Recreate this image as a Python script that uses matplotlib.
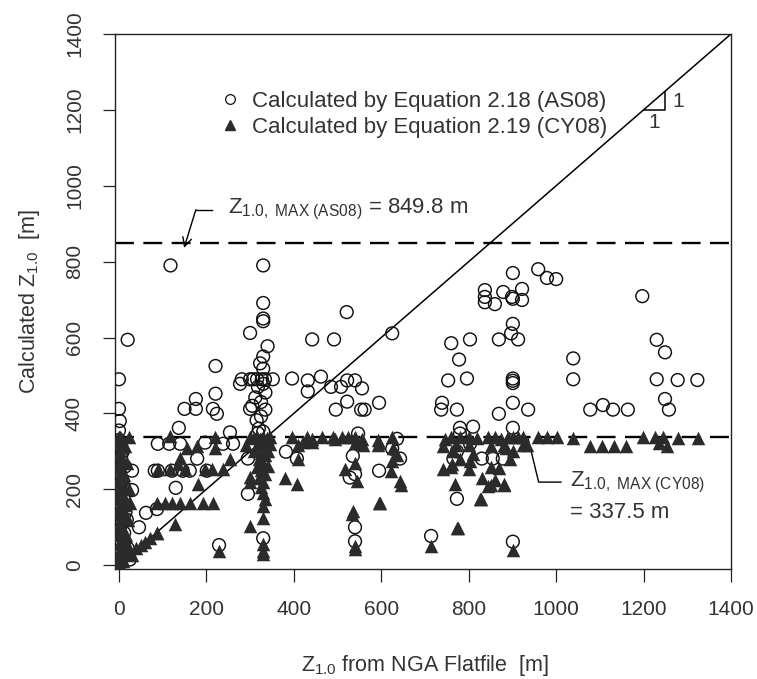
import matplotlib
matplotlib.use('Agg')
import matplotlib.pyplot as plt
from matplotlib.lines import Line2D

plt.rcParams['font.family'] = ['Liberation Sans', 'DejaVu Sans']
plt.rcParams['mathtext.fontset'] = 'custom'
plt.rcParams['mathtext.rm'] = 'Liberation Sans'
plt.rcParams['mathtext.it'] = 'Liberation Sans:italic'
plt.rcParams['mathtext.bf'] = 'Liberation Sans:bold'

# ---------------- data ----------------
as08_x = [118, 330, 20, 330, 330, 330, 300, 340, 221, 221, 442, 492, 521, 625,
          0, 0, 2, 0, 150, 176, 176, 215, 224, 277,
          281, 300, 307, 316, 327, 334, 352, 330, 323, 330, 318, 330, 335, 312, 325,
          305, 335, 300, 315, 325, 320, 330, 318,
          396, 432, 432, 462, 485, 508, 522, 540, 556, 522, 496, 554, 562, 595,
          137, 254, 89, 115, 140, 197, 238, 261, 179, 30, 82, 89, 121, 146, 162, 201,
          130, 30, 62, 87, 46, 229, 330,
          382, 407, 295, 295, 547, 535, 528, 540, 540, 540, 636, 625, 643, 595,
          714, 837, 837, 837, 760, 803, 778, 753, 796, 739, 737, 773, 780, 810, 803,
          780, 765, 773, 830, 773, 855, 878,
          901, 959, 979, 1000, 860, 879, 899, 901, 922, 922, 901, 897, 913, 869,
          901, 901, 901, 901, 869, 936, 901, 901,
          1039, 1039, 1078, 1107, 1130, 1164, 1197, 1230, 1249, 1230, 1278, 1323, 1249, 1258,
          0, 2, 0, 5, 1, 0, 3, 8, 0, 2, 10, 0, 4, 15, 0, 6, 1, 12, 0, 3, 20, 0, 7, 25, 2, 0,
          14, 18, 12, 9]
as08_y = [790, 790, 594, 691, 650, 643, 612, 577, 525, 452, 595, 595, 667, 611,
          490, 412, 380, 355, 412, 438, 412, 412, 399, 478,
          490, 490, 490, 490, 490, 490, 490, 550, 532, 518, 470, 478, 455, 442, 430,
          420, 410, 412, 382, 392, 360, 352, 348,
          492, 487, 458, 497, 470, 470, 487, 487, 466, 431, 410, 410, 410, 428,
          362, 350, 320, 320, 320, 323, 320, 320, 281, 249, 249, 249, 249, 249, 249, 249,
          204, 198, 138, 148, 100, 53, 71,
          299, 281, 281, 188, 347, 288, 231, 240, 100, 63, 333, 307, 281, 249,
          77, 725, 707, 693, 585, 595, 542, 487, 492, 428, 410, 410, 362, 365, 320,
          347, 281, 300, 281, 175, 281, 281,
          770, 780, 757, 754, 688, 720, 707, 702, 728, 699, 636, 611, 595, 595,
          492, 486, 480, 428, 399, 410, 362, 62,
          545, 490, 410, 422, 410, 410, 709, 594, 561, 490, 488, 488, 438, 410,
          330, 315, 300, 285, 270, 255, 240, 225, 210, 195, 180, 165, 150, 140, 125, 110,
          95, 85, 70, 55, 45, 35, 20, 15, 8, 0,
          260, 120, 60, 300]

cy08_x = [22, 117, 220, 300, 308, 315, 322, 330, 338, 345, 396, 430, 441, 464, 490, 494,
          510, 524, 540, 556, 593, 625, 745, 760, 780, 800, 820, 845, 860, 875, 890, 901,
          912, 925, 958, 979, 1002, 1039, 1199, 1227, 1245, 1279, 1325,
          155, 178, 220, 290, 330, 410, 558, 627, 741, 770, 800, 850, 880, 934,
          1078, 1105, 1133, 1160, 1254, 1235,
          140, 135, 151, 89, 117, 181, 197, 213, 238, 254, 87, 105, 121, 140, 162, 192,
          215, 25, 128, 87, 229,
          410, 380, 407, 300, 300, 330, 300, 330, 330, 330, 330, 517, 540, 545, 533, 535,
          540, 540, 540, 442, 421,
          320, 330, 325, 335, 320, 330, 340, 325, 335, 320, 330, 325, 330, 335, 310, 345,
          315, 340,
          593, 636, 625, 643, 597, 595, 623, 645, 596, 773, 714,
          764, 780, 810, 803, 741, 762, 769, 826, 844, 759, 801, 852, 880, 829, 776,
          901, 901, 885, 895, 870, 860, 880, 850, 830, 925,
          0, 3, 0, 6, 2, 0, 4, 9, 1, 0, 5, 12, 0, 3, 7, 0, 2, 10, 0, 4, 14, 1, 0, 6, 18,
          2, 0, 8, 3, 0, 12, 5, 0, 15, 2, 20, 0, 7, 25, 3, 10, 0, 18, 5, 30, 12, 22,
          40, 50, 60, 70, 88, 0, 2, 5,
          15, 18, 12, 20, 16, 10]
cy08_y = [337, 340, 337, 337, 335, 337, 333, 337, 335, 337, 337, 337, 333, 337, 337, 333,
          337, 337, 337, 333, 330, 337, 333, 337, 337, 337, 335, 337, 337, 333, 337, 337,
          337, 337, 337, 337, 337, 335, 339, 337, 337, 336, 336,
          310, 315, 310, 318, 318, 318, 318, 310, 315, 318, 318, 315, 318, 318,
          315, 315, 315, 315, 315, 322,
          283, 267, 254, 254, 254, 214, 254, 254, 254, 280, 163, 163, 163, 163, 163, 163,
          163, 164, 108, 85, 37,
          281, 230, 214, 232, 220, 125, 103, 155, 55, 37, 30, 253, 270, 222, 136, 144,
          42, 50, 323, 326, 326,
          320, 305, 295, 290, 280, 270, 262, 250, 240, 230, 220, 205, 190, 175, 300, 320,
          260, 300,
          318, 290, 275, 222, 164, 321, 248, 212, 165, 98, 50,
          302, 281, 294, 275, 254, 267, 214, 175, 209, 259, 253, 212, 212, 175, 97,
          40, 300, 310, 280, 255, 225, 215, 260, 230, 318,
          337, 330, 320, 312, 300, 290, 282, 275, 265, 255, 245, 238, 228, 220, 210, 200,
          192, 185, 175, 165, 158, 150, 140, 132, 125, 115, 105, 98, 90, 80, 72, 65, 55,
          48, 40, 35, 25, 18, 30, 10, 12, 5, 55, 100, 28, 140, 200,
          45, 52, 62, 72, 86, 337, 337, 335,
          315, 270, 230, 120, 80, 60]

zmax_as08 = 849.8
zmax_cy08 = 337.5
ticks = [0, 200, 400, 600, 800, 1000, 1200, 1400]
label_as08 = 'Calculated by Equation 2.18 (AS08)'
label_cy08 = 'Calculated by Equation 2.19 (CY08)'

# ---------------- figure ----------------
TXT = '#333333'
fig = plt.figure(figsize=(7.57, 6.79), dpi=100)
ax = fig.add_axes([0.1513, 0.162, 0.8144, 0.788])
ax.set_xlim(-10, 1400)
ax.set_ylim(-10, 1400)

ax.axline((0, 0), slope=1, color='black', lw=1.1, zorder=2)
for z in (zmax_as08, zmax_cy08):
    ax.axhline(z, color='black', lw=1.7, linestyle=(0, (8, 4)), zorder=2)

ax.scatter(as08_x, as08_y, s=85, marker='o', facecolors='none',
           edgecolors='#111111', linewidths=1.05, zorder=3)
ax.scatter(cy08_x, cy08_y, s=95, marker='^', color='#2b2b2b',
           linewidths=0, zorder=4)

# legend
h1 = Line2D([], [], marker='o', linestyle='none', markerfacecolor='none',
            markeredgecolor='#111111', markersize=7.0, markeredgewidth=0.9)
h2 = Line2D([], [], marker='^', linestyle='none', color='#2b2b2b', markersize=7.5)
leg = ax.legend([h1, h2], [label_as08, label_cy08], loc='upper left',
                bbox_to_anchor=(0.17, 0.893), frameon=False, fontsize=16,
                handlelength=1.0, handletextpad=0.45, labelspacing=0.22,
                borderpad=0, borderaxespad=0)
for t in leg.get_texts():
    t.set_color(TXT)

# AS08 annotation
ax.plot([213, 176], [937, 937], color='black', lw=1.0)
ax.annotate('', xy=(149, 836), xytext=(176, 937),
            arrowprops=dict(arrowstyle='->', color='black', lw=1.0,
                            shrinkA=0, shrinkB=0, mutation_scale=16))
ax.text(250, 937, r'Z$_{\mathrm{1.0,\ MAX\ (AS08)}}$ = 849.8 m', fontsize=16,
        color=TXT, ha='left', va='center')

# CY08 annotation
ax.plot([936, 960, 1011], [333, 219, 219], color='black', lw=1.0)
ax.text(1032, 219, r'Z$_{\mathrm{1.0,\ MAX\ (CY08)}}$', fontsize=16,
        color=TXT, ha='left', va='center')
ax.text(1032, 139, '= 337.5 m', fontsize=16, color=TXT, ha='left', va='center')

# 1:1 slope triangle
ax.plot([1200, 1248, 1248], [1200, 1200, 1248], color='black', lw=1.1)
ax.text(1266, 1222, '1', fontsize=15, color=TXT, ha='left', va='center')
ax.text(1224, 1166, '1', fontsize=15, color=TXT, ha='center', va='center')

# axes styling
ax.set_xticks(ticks)
ax.set_yticks(ticks)
ax.tick_params(direction='out', length=9, width=0.9, pad=13, labelsize=15,
               labelcolor=TXT, color='#222222')
for lab in ax.get_yticklabels():
    lab.set_rotation(90)
    lab.set_va('center')
for sp in ax.spines.values():
    sp.set_linewidth(1.0)
    sp.set_color('#222222')

fig.text(425 / 757, 1 - 665 / 679, r'Z$_{\mathrm{1.0}}$ from NGA Flatfile  [m]',
         fontsize=15.5, color=TXT, ha='center', va='center')
fig.text(30 / 757, 1 - 302 / 679, r'Calculated Z$_{\mathrm{1.0}}$  [m]',
         fontsize=15.5, color=TXT, ha='center', va='center', rotation=90)

fig.savefig('out.png', dpi=100)
